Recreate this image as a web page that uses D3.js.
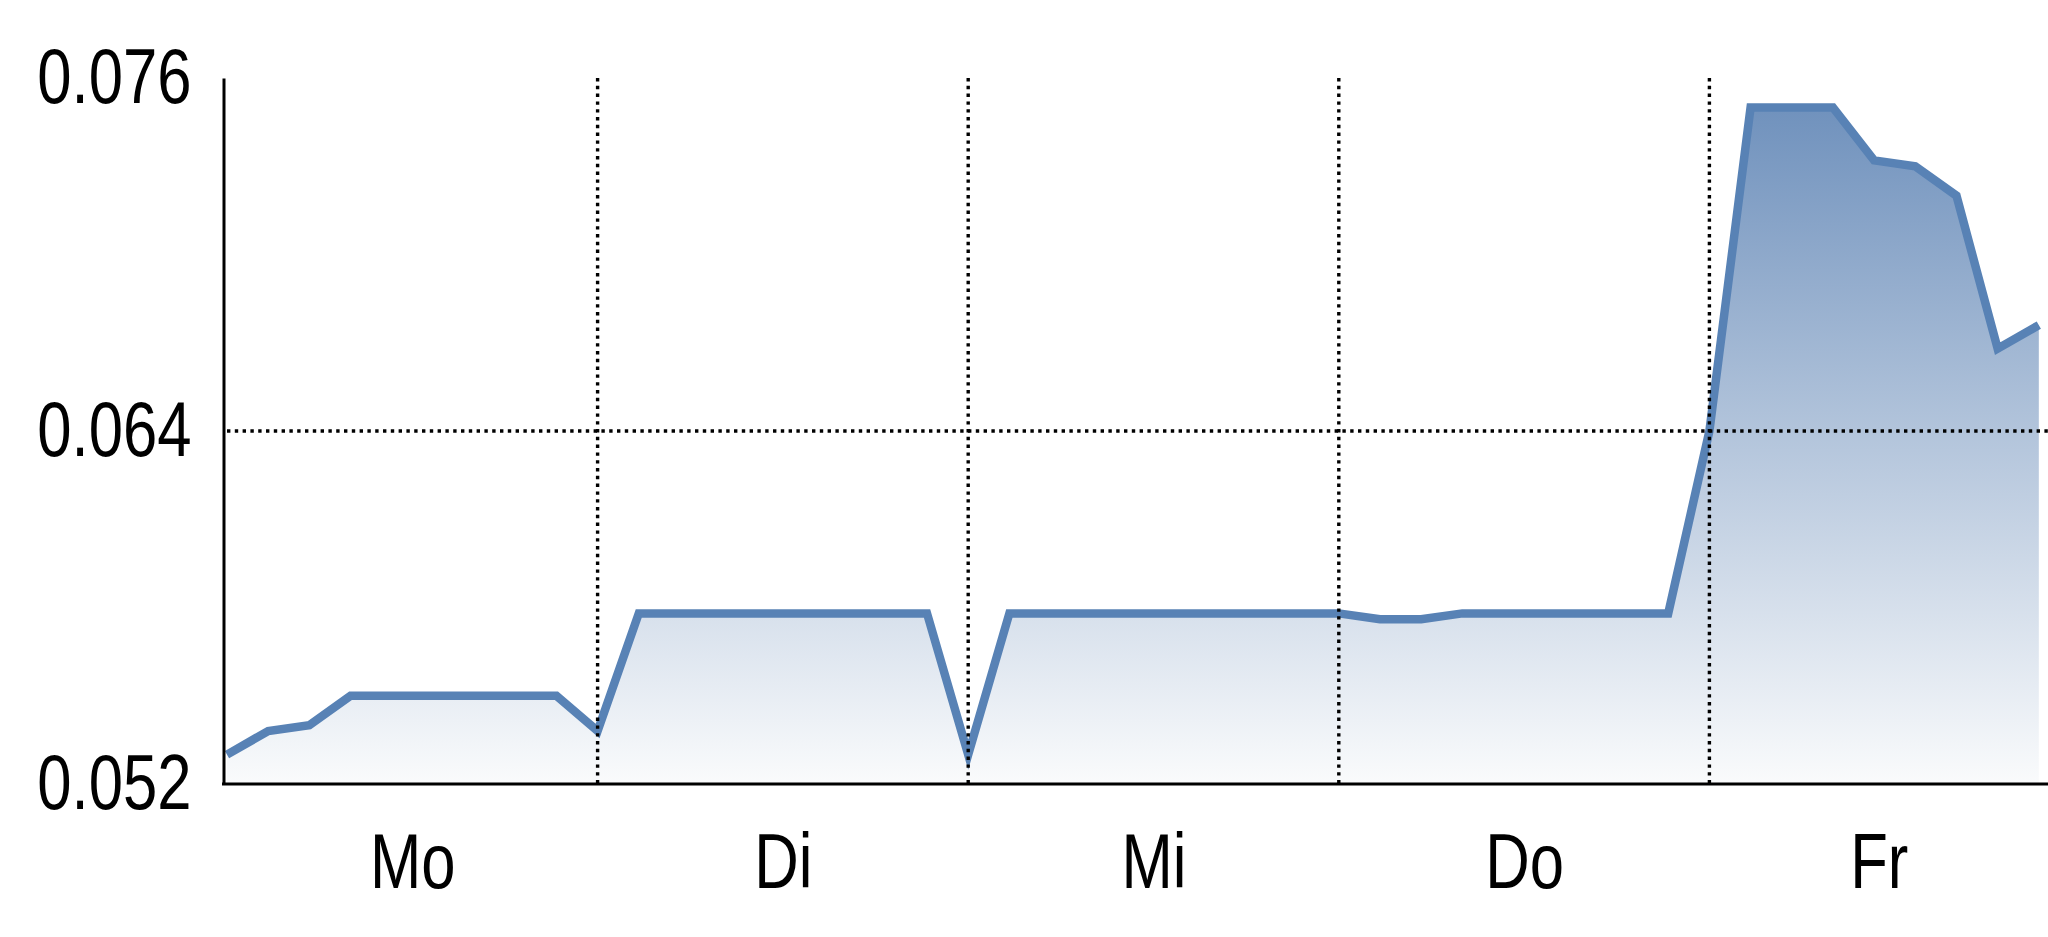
<!DOCTYPE html>
<html>
<head>
<meta charset="utf-8">
<script src="https://cdn.jsdelivr.net/npm/d3@7"></script>
<style>
  body { margin: 0; background: #fff; }
  svg { display: block; }
</style>
</head>
<body>
<svg id="chart" width="2048" height="937"></svg>
<script>
// day labels and one reading per hour slot (9 per day)
var days = ["Mo", "Di", "Mi", "Do", "Fr"];
var moValues = [0.0530, 0.0538, 0.0540, 0.0550, 0.0550, 0.0550, 0.0550, 0.0550, 0.0550];
var diValues = [0.0538, 0.0578, 0.0578, 0.0578, 0.0578, 0.0578, 0.0578, 0.0578, 0.0578];
var miValues = [0.0530, 0.0578, 0.0578, 0.0578, 0.0578, 0.0578, 0.0578, 0.0578, 0.0578];
var doValues = [0.0578, 0.0576, 0.0576, 0.0578, 0.0578, 0.0578, 0.0578, 0.0578, 0.0578];
var frValues = [0.0640, 0.0750, 0.0750, 0.0750, 0.0732, 0.0730, 0.0720, 0.0668, 0.0676];
var yTicks = [0.052, 0.064, 0.076];
var yGrid = [0.064];

var values = moValues.concat(diValues, miValues, doValues, frValues);
var perDay = moValues.length;

var svg = d3.select("#chart"),
    width = +svg.attr("width"),
    height = +svg.attr("height");

var dayWidth = 370.6,
    left = 227,
    axisX = 223.5;

var x = d3.scaleLinear()
    .domain([0, days.length * perDay])
    .range([left, left + days.length * dayWidth]);
var y = d3.scaleLinear()
    .domain([0.052, 0.076])
    .range([784, 78]);

var lineColor = "#5882b5";

var defs = svg.append("defs");
var grad = defs.append("linearGradient")
    .attr("id", "fillGrad")
    .attr("gradientUnits", "userSpaceOnUse")
    .attr("x1", 0).attr("x2", 0)
    .attr("y1", y(0.076)).attr("y2", y(0.052));
grad.append("stop").attr("offset", "0%").attr("stop-color", "#6a8dba");
grad.append("stop").attr("offset", "100%").attr("stop-color", "#fafbfc");

var area = d3.area()
    .x(function (d, i) { return x(i); })
    .y0(y(0.052))
    .y1(function (d) { return y(d); });

var line = d3.line()
    .x(function (d, i) { return x(i); })
    .y(function (d) { return y(d); });

svg.append("path")
    .attr("class", "area")
    .attr("fill", "url(#fillGrad)")
    .attr("d", area(values));

svg.append("path")
    .attr("class", "line")
    .attr("fill", "none")
    .attr("stroke", lineColor)
    .attr("stroke-width", 8.5)
    .attr("stroke-linejoin", "miter")
    .attr("d", line(values));

// dotted grid: day separators and the middle value
var dayBounds = d3.range(1, days.length).map(function (k) { return k * perDay; });

svg.append("g").selectAll("line.vgrid")
    .data(dayBounds)
    .enter().append("line")
    .attr("class", "vgrid")
    .attr("x1", function (d) { return x(d); })
    .attr("x2", function (d) { return x(d); })
    .attr("y1", y(0.076))
    .attr("y2", y(0.052))
    .attr("stroke", "#000")
    .attr("stroke-width", 3.4)
    .attr("stroke-dasharray", "3.4,4.4");

svg.append("g").selectAll("line.hgrid")
    .data(yGrid)
    .enter().append("line")
    .attr("class", "hgrid")
    .attr("x1", x(0))
    .attr("x2", width)
    .attr("y1", function (d) { return y(d); })
    .attr("y2", function (d) { return y(d); })
    .attr("stroke", "#000")
    .attr("stroke-width", 3.4)
    .attr("stroke-dasharray", "3.4,4.4");

// no narrow face installed, so squeeze the regular one
var font = "'Liberation Sans', Arial, sans-serif",
    squeeze = 0.8,
    fontSize = 77;

var yPad = 32;
var yAxis = svg.append("g")
    .attr("class", "axis axis--y")
    .attr("transform", "translate(" + axisX + ",0)")
    .call(d3.axisLeft(y)
        .tickValues(yTicks)
        .tickFormat(d3.format(".3f"))
        .tickSizeInner(0)
        .tickSizeOuter(0)
        .tickPadding(yPad));
yAxis.select(".domain").attr("stroke", "#000").attr("stroke-width", 3);
yAxis.selectAll("text")
    .attr("x", 0)
    .attr("transform", "translate(" + (-yPad) + ",0) scale(" + squeeze + ",1)")
    .attr("font-family", font)
    .attr("font-size", fontSize)
    .attr("fill", "#000");

// day labels sit in the middle of the visible part of each day
var visibleEnd = x.invert(width);
var labelPos = days.map(function (d, k) {
    var a = k * perDay, b = Math.min((k + 1) * perDay, visibleEnd);
    return (a + b) / 2;
});

var xAxis = svg.append("g")
    .attr("class", "axis axis--x")
    .attr("transform", "translate(0," + y(0.052) + ")")
    .call(d3.axisBottom(x)
        .tickValues(labelPos)
        .tickFormat(function (d, i) { return days[i]; })
        .tickSizeInner(0)
        .tickSizeOuter(0)
        .tickPadding(49));
xAxis.select(".domain")
    .attr("d", "M" + (axisX - 1.5) + ",0H" + width)
    .attr("stroke", "#000")
    .attr("stroke-width", 3);
xAxis.selectAll("text")
    .attr("transform", "scale(" + squeeze + ",1)")
    .attr("font-family", font)
    .attr("font-size", fontSize)
    .attr("fill", "#000");
</script>
</body>
</html>
